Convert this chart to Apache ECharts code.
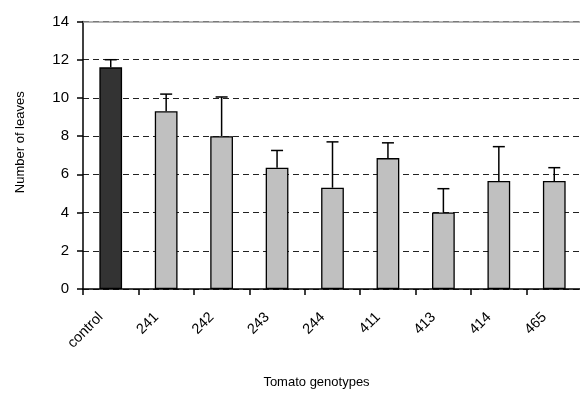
<!DOCTYPE html>
<html>
<head>
<meta charset="utf-8">
<script src="https://cdn.jsdelivr.net/npm/echarts@6/dist/echarts.min.js"></script>
<style>html,body{margin:0;padding:0;background:#fff}#c{width:580px;height:394px}</style>
</head>
<body>
<div id="c"></div>
<script>
const categories = ['control', '241', '242', '243', '244', '411', '413', '414', '465'];
const means = [11.6, 9.3, 8.0, 6.35, 5.3, 6.85, 4.0, 5.65, 5.65];
const errors = [0.4, 0.9, 2.05, 0.9, 2.4, 0.8, 1.25, 1.8, 0.7];
const yTicks = [0, 2, 4, 6, 8, 10, 12, 14];

const chart = echarts.init(document.getElementById('c'));
const font = 'Liberation Sans, Arial, sans-serif';
chart.setOption({
  animation: false,
  grid: { left: 83, top: 21.5, width: 499, height: 267.5, outerBoundsMode: 'none', containLabel: false },
  xAxis: {
    type: 'category',
    data: categories,
    name: 'Tomato genotypes',
    nameLocation: 'middle',
    nameGap: 87,
    nameTextStyle: { fontFamily: font, fontSize: 13, color: '#000', padding: [0, 32, 0, 0] },
    axisLine: { lineStyle: { color: '#000', width: 1.5 } },
    axisTick: { show: true, alignWithLabel: false, length: 6, lineStyle: { color: '#000', width: 1.5 } },
    axisLabel: { rotate: 45, margin: 16, fontFamily: font, fontSize: 14.5, color: '#000', padding: [0, 14, 0, 0] }
  },
  yAxis: {
    type: 'value',
    min: 0, max: 14, interval: 2,
    name: 'Number of leaves',
    nameLocation: 'middle',
    nameGap: 56,
    nameTextStyle: { fontFamily: font, fontSize: 13, color: '#000', padding: [0, 0, 0, 26] },
    axisLine: { show: true, lineStyle: { color: '#000', width: 1.5 } },
    axisTick: { show: true, length: 6, lineStyle: { color: '#000', width: 1.5 } },
    axisLabel: { margin: 14, fontFamily: font, fontSize: 15, color: '#000',
      formatter: v => yTicks.includes(v) ? String(v) : '' },
    splitLine: { show: true, lineStyle: { color: '#222', type: [6, 4], width: 1 } }
  },
  series: [
    {
      type: 'bar',
      data: means.map((v, i) => ({
        value: v,
        itemStyle: { color: i === 0 ? '#333333' : '#c0c0c0' }
      })),
      barWidth: '41%',
      itemStyle: { borderColor: '#000', borderWidth: 1.3 },
      markLine: {
        silent: true, symbol: 'none', label: { show: false },
        lineStyle: { color: '#999', type: 'solid', width: 1.5 },
        data: [{ yAxis: 14 }]
      },
      z: 2
    },
    {
      type: 'custom',
      data: means.map((v, i) => [i, v, v + errors[i]]),
      renderItem: function (params, api) {
        const base = api.coord([api.value(0), api.value(1)]);
        const top = api.coord([api.value(0), api.value(2)]);
        const hw = 6;
        return {
          type: 'group',
          children: [
            { type: 'line', shape: { x1: base[0], y1: base[1], x2: top[0], y2: top[1] },
              style: { stroke: '#000', lineWidth: 1.5 } },
            { type: 'line', shape: { x1: top[0] - hw, y1: top[1], x2: top[0] + hw, y2: top[1] },
              style: { stroke: '#000', lineWidth: 1.5 } }
          ]
        };
      },
      z: 3
    }
  ]
});
</script>
</body>
</html>
